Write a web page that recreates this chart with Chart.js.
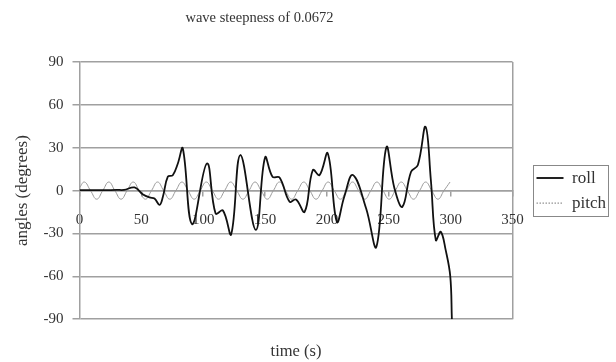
<!DOCTYPE html>
<html><head><meta charset="utf-8">
<script src="https://cdn.jsdelivr.net/npm/chart.js@4"></script>
<style>html,body{margin:0;padding:0;background:#fff}</style>
</head><body>
<canvas id="c" width="616" height="362"></canvas>
<script>
const chartTitle = 'wave steepness of 0.0672';
const xTitle = 'time (s)';
const yTitle = 'angles (degrees)';
const seriesNames = ['roll', 'pitch'];

const rollTime = [0, 10, 20, 30, 36, 44.5, 51, 56.6, 60.6, 64.7, 67.4, 71.4, 75.4, 79.5, 83.5, 91, 103, 110, 116, 122.6, 130, 142.5, 150, 156, 161.7, 169.8, 175, 182, 188.6, 194, 200.7, 208, 214, 221, 231.7, 240, 248, 254.6, 261, 268, 273.5, 279.7, 284, 288, 292, 296, 299.7, 301];
const rollAngle = [0.3, 0.3, 0.3, 0.5, 0.5, 2.2, -2.5, -4.8, -5.5, -10, -4.3, 9.7, 10.8, 19, 29.5, -23.5, 19, -16, -14, -30.5, 24.9, -27.5, 23.2, 9.7, 9.2, -7.8, -6.2, -14.8, 14.4, 10.9, 26, -21.8, -4.3, 10.9, -12.5, -39.3, 30.2, 1.5, -11.3, 13.2, 17.9, 44.7, 7.4, -34.7, -28.8, -41.7, -60, -90];

const pitchTime = [0, 4, 8.9, 13.9, 18.8, 23.7, 28.6, 33.6, 38.5, 43.4, 48.3, 53.3, 58.2, 63.1, 68.0, 73.0, 77.9, 82.8, 87.7, 92.7, 97.6, 102.5, 107.4, 112.4, 117.3, 122.2, 127.1, 132.1, 137.0, 141.9, 146.8, 151.8, 156.7, 161.6, 166.5, 171.5, 176.4, 181.3, 186.2, 191.2, 196.1, 201.0, 205.9, 210.9, 215.8, 220.7, 225.6, 230.6, 235.5, 240.4, 245.3, 250.3, 255.2, 260.1, 265.0, 270.0, 274.9, 279.8, 284.7, 289.7, 294.6, 299.5];
const pitchAngle = [2, 6, 0, -6, 0, 6, 0, -6, 0, 6, 0, -6, 0, 6, 0, -6, 0, 6, 0, -6, 0, 6, 0, -6, 0, 6, 0, -6, 0, 6, 0, -6, 0, 6, 0, -6, 0, 6, 0, -6, 0, 6, 0, -6, 0, 6, 0, -6, 0, 6, 0, -6, 0, 6, 0, -6, 0, 6, 0, -6, 0, 6];

const xMin = 0, xMax = 350, xStep = 50;
const yMin = -90, yMax = 90, yStep = 30;

const SERIF = "'Liberation Serif', 'Times New Roman', serif";
const TXT = '#333';
const GRID = '#a0a0a0';

const toPts = (xs, ys) => xs.map((x, i) => ({x: x, y: ys[i]}));

const legendFrame = {
  id: 'legendFrame',
  afterLayout(chart) {
    if (chart.titleBlock) { chart.titleBlock.left = 0; chart.titleBlock.right = 519; }
  },
  afterDraw(chart) {
    const hb = chart.legend && chart.legend.legendHitBoxes;
    if (!hb || !hb.length) return;
    let x1 = Infinity, y1 = Infinity, x2 = -Infinity, y2 = -Infinity;
    hb.forEach(b => { x1 = Math.min(x1, b.left); y1 = Math.min(y1, b.top); x2 = Math.max(x2, b.left + b.width); y2 = Math.max(y2, b.top + b.height); });
    const ctx = chart.ctx;
    ctx.save();
    ctx.strokeStyle = '#888';
    ctx.lineWidth = 1;
    ctx.setLineDash([]);
    ctx.strokeRect(Math.round(x1 - 4) + 0.5, Math.round(y1 - 5) + 0.5, Math.round(x2 - x1 + 6), Math.round(y2 - y1 + 9));
    ctx.restore();
  }
};

new Chart(document.getElementById('c'), {
  type: 'line',
  data: {
    datasets: [
      { label: seriesNames[0], data: toPts(rollTime, rollAngle), borderColor: '#111', backgroundColor: '#111', borderWidth: 1.8, pointRadius: 0, tension: 0.4, fill: false },
      { label: seriesNames[1], data: toPts(pitchTime, pitchAngle), borderColor: '#9a9a9a', backgroundColor: '#9a9a9a', borderWidth: 1, pointRadius: 0, tension: 0.45, fill: false }
    ]
  },
  options: {
    responsive: false,
    animation: false,
    devicePixelRatio: 1,
    layout: { padding: { left: 0, right: 0, top: 0, bottom: 0 } },
    scales: {
      x: {
        type: 'linear', min: xMin, max: xMax, position: { y: 0 },
        ticks: { stepSize: xStep, font: { family: SERIF, size: 15 }, color: TXT, padding: 15, maxRotation: 0 },
        grid: { color: c => (c.tick && c.tick.value === xMax) ? GRID : 'rgba(0,0,0,0)', tickColor: GRID, tickLength: 5, lineWidth: 1.5 },
        border: { display: true, color: GRID, width: 1.5 }
      },
      y: {
        min: yMin, max: yMax,
        ticks: { stepSize: yStep, font: { family: SERIF, size: 15 }, color: TXT, padding: 9 },
        grid: { color: GRID, lineWidth: 1.5, tickLength: 7 },
        border: { display: true, color: GRID, width: 1.5 },
        title: { display: true, text: yTitle, font: { family: SERIF, size: 17 }, color: TXT, padding: { top: 12, bottom: 0 } },
        afterFit: s => { s.width = 79.5; }
      },
      y2: {
        position: 'right', display: true,
        grid: { display: false }, border: { display: false }, ticks: { display: false },
        afterFit: s => { s.width = 16; }
      }
    },
    plugins: {
      title: { display: true, text: chartTitle, font: { family: SERIF, size: 14.5, weight: 'normal' }, color: TXT, padding: { top: 9.8, bottom: 34.8 } },
      subtitle: { display: true, text: xTitle, position: 'bottom', fullSize: false, font: { family: SERIF, size: 16.5 }, color: TXT, padding: { top: 23, bottom: 0 } },
      legend: {
        position: 'right', fullSize: false,
        labels: {
          font: { family: SERIF, size: 17 }, color: TXT, padding: 8,
          usePointStyle: true, pointStyle: 'line', pointStyleWidth: 27,
          generateLabels(chart) {
            const items = Chart.defaults.plugins.legend.labels.generateLabels(chart);
            items.forEach((it, i) => {
              it.pointStyle = 'line';
              if (i === 0) { it.strokeStyle = '#222'; it.lineWidth = 2; it.lineDash = []; }
              else { it.strokeStyle = '#777'; it.lineWidth = 1; it.lineDash = [1.5, 1.5]; }
            });
            return items;
          }
        }
      },
      tooltip: { enabled: false }
    }
  },
  plugins: [legendFrame]
});
</script>
</body></html>
